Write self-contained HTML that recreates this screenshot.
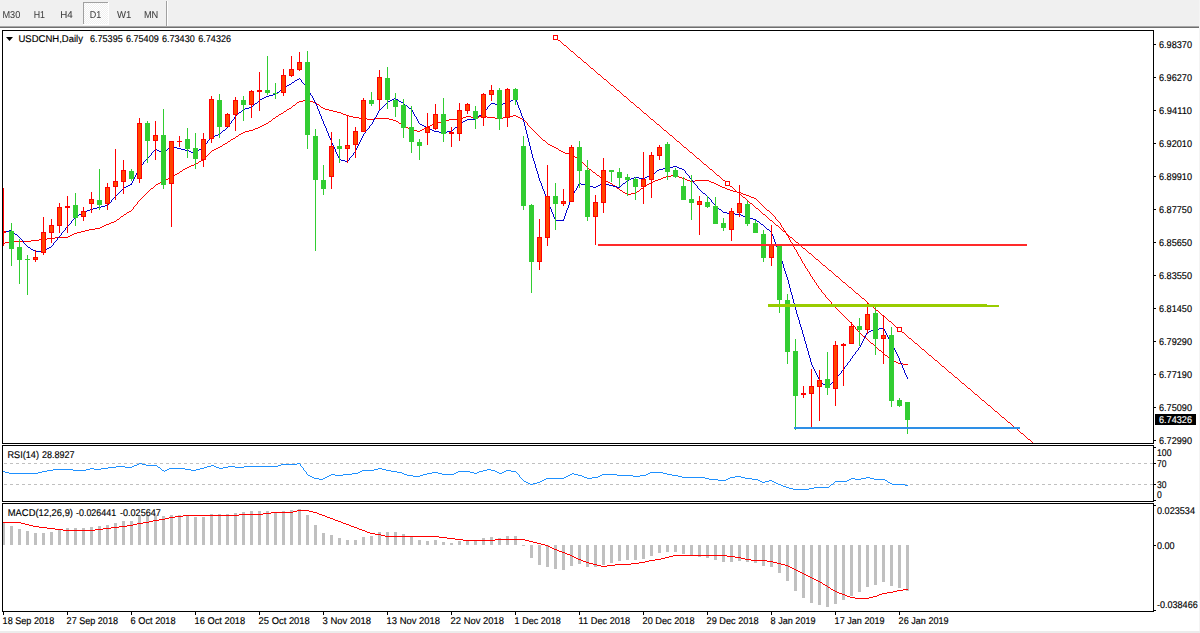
<!DOCTYPE html>
<html><head><meta charset="utf-8"><title>USDCNH Daily</title>
<style>
html,body{margin:0;padding:0;background:#fff;}
body{width:1200px;height:633px;overflow:hidden;font-family:"Liberation Sans",Arial,sans-serif;}
svg{display:block;}
svg text{font-family:"Liberation Sans",Arial,sans-serif;text-rendering:geometricPrecision;}
</style></head><body>
<svg width="1200" height="633" viewBox="0 0 1200 633">
<defs>
<clipPath id="cm"><rect x="3" y="31" width="1150" height="412"/></clipPath>
<clipPath id="cr"><rect x="3" y="446" width="1150" height="55"/></clipPath>
<clipPath id="cd"><rect x="3" y="504" width="1150" height="107"/></clipPath>
<filter id="nofx" x="0" y="0" width="100%" height="100%" filterUnits="userSpaceOnUse"><feOffset dx="0" dy="0"/></filter>
<pattern id="hatch" width="2" height="2" patternUnits="userSpaceOnUse"><rect width="2" height="2" fill="#f0f0f0"/><rect width="1" height="1" fill="#fff"/><rect x="1" y="1" width="1" height="1" fill="#fff"/></pattern>
</defs>
<rect width="1200" height="633" fill="#fff"/>
<!-- toolbar -->
<g shape-rendering="crispEdges">
<rect x="0" y="0" width="1199" height="26" fill="#f0f0f0"/>
<rect x="0" y="26" width="1199" height="1" fill="#a8a8a8"/>
<rect x="0" y="27" width="1199" height="1" fill="#6e6e6e"/>
<rect x="1199" y="0" width="1" height="633" fill="#f4f4f4"/>
<rect x="0" y="631" width="1200" height="2" fill="#ececec"/>
<rect x="83" y="2" width="25" height="22" fill="url(#hatch)"/>
<rect x="83" y="2" width="25" height="1" fill="#a0a0a0"/>
<rect x="83" y="2" width="1" height="22" fill="#a0a0a0"/>
<rect x="108" y="2" width="1" height="23" fill="#fff"/>
<rect x="83" y="24" width="26" height="1" fill="#fff"/>
<rect x="166" y="1" width="1" height="25" fill="#a0a0a0"/>
<rect x="167" y="1" width="1" height="25" fill="#fff"/>
</g>
<!-- panel frames -->
<g shape-rendering="crispEdges" fill="none" stroke="#000" stroke-width="1">
<rect x="2.5" y="30.5" width="1151" height="413"/>
<rect x="2.5" y="445.5" width="1151" height="56"/>
<rect x="2.5" y="503.5" width="1151" height="108"/>
</g>
<g shape-rendering="crispEdges">
<rect x="1154" y="44" width="2" height="1" fill="#000"/><rect x="1154" y="77" width="2" height="1" fill="#000"/><rect x="1154" y="110" width="2" height="1" fill="#000"/><rect x="1154" y="143" width="2" height="1" fill="#000"/><rect x="1154" y="176" width="2" height="1" fill="#000"/><rect x="1154" y="209" width="2" height="1" fill="#000"/><rect x="1154" y="242" width="2" height="1" fill="#000"/><rect x="1154" y="275" width="2" height="1" fill="#000"/><rect x="1154" y="308" width="2" height="1" fill="#000"/><rect x="1154" y="341" width="2" height="1" fill="#000"/><rect x="1154" y="374" width="2" height="1" fill="#000"/><rect x="1154" y="407" width="2" height="1" fill="#000"/><rect x="1154" y="440" width="2" height="1" fill="#000"/><rect x="3" y="612" width="1" height="3" fill="#000"/><rect x="67" y="612" width="1" height="3" fill="#000"/><rect x="131" y="612" width="1" height="3" fill="#000"/><rect x="195" y="612" width="1" height="3" fill="#000"/><rect x="259" y="612" width="1" height="3" fill="#000"/><rect x="323" y="612" width="1" height="3" fill="#000"/><rect x="387" y="612" width="1" height="3" fill="#000"/><rect x="451" y="612" width="1" height="3" fill="#000"/><rect x="515" y="612" width="1" height="3" fill="#000"/><rect x="579" y="612" width="1" height="3" fill="#000"/><rect x="643" y="612" width="1" height="3" fill="#000"/><rect x="707" y="612" width="1" height="3" fill="#000"/><rect x="771" y="612" width="1" height="3" fill="#000"/><rect x="835" y="612" width="1" height="3" fill="#000"/><rect x="899" y="612" width="1" height="3" fill="#000"/><rect x="1154" y="447" width="2" height="1" fill="#000"/><rect x="1154" y="463" width="2" height="1" fill="#000"/><rect x="1154" y="484" width="2" height="1" fill="#000"/><rect x="1154" y="500" width="2" height="1" fill="#000"/><rect x="1154" y="505" width="2" height="1" fill="#000"/><rect x="1154" y="545" width="2" height="1" fill="#000"/><rect x="1154" y="610" width="2" height="1" fill="#000"/>
</g>
<!-- main chart -->
<g clip-path="url(#cm)">
<g shape-rendering="crispEdges">
<path stroke="#ff0000" stroke-width="1" fill="none" d="M303 100.5h6M299 101.5h4M309 101.5h4M297 102.5h2M313 102.5h3M296 103.5h1M316 103.5h1M295 104.5h1M317 104.5h2M293 105.5h2M319 105.5h1M292 106.5h1M320 106.5h1M291 107.5h1M321 107.5h2M289 108.5h2M323 108.5h2M287 109.5h2M325 109.5h4M286 110.5h1M329 110.5h4M284 111.5h2M333 111.5h4M283 112.5h1M337 112.5h4M281 113.5h2M341 113.5h2M279 114.5h2M343 114.5h3M278 115.5h1M346 115.5h3M513 115.5h3M276 116.5h2M349 116.5h4M466 116.5h5M479 116.5h8M509 116.5h4M516 116.5h2M275 117.5h1M353 117.5h6M463 117.5h3M471 117.5h8M487 117.5h8M503 117.5h6M518 117.5h2M273 118.5h2M359 118.5h8M375 118.5h14M461 118.5h2M495 118.5h8M520 118.5h2M272 119.5h1M367 119.5h8M389 119.5h4M449 119.5h12M522 119.5h2M271 120.5h1M393 120.5h3M445 120.5h4M524 120.5h1M269 121.5h2M396 121.5h2M441 121.5h4M525 121.5h1M268 122.5h1M398 122.5h1M437 122.5h4M526 122.5h1M266 123.5h2M399 123.5h2M434 123.5h3M527 123.5h1M264 124.5h2M401 124.5h2M432 124.5h2M527 124.5h1M262 125.5h2M403 125.5h1M430 125.5h2M528 125.5h1M260 126.5h2M404 126.5h2M428 126.5h2M529 126.5h1M258 127.5h2M406 127.5h2M426 127.5h2M530 127.5h1M255 128.5h3M408 128.5h2M424 128.5h2M531 128.5h1M253 129.5h2M410 129.5h3M422 129.5h2M532 129.5h1M249 130.5h4M413 130.5h4M420 130.5h2M533 130.5h1M245 131.5h4M417 131.5h3M534 131.5h1M243 132.5h2M535 132.5h1M241 133.5h2M536 133.5h1M239 134.5h2M537 134.5h1M238 135.5h1M538 135.5h1M236 136.5h2M539 136.5h1M235 137.5h1M540 137.5h1M233 138.5h2M541 138.5h1M231 139.5h2M542 139.5h1M230 140.5h1M543 140.5h2M228 141.5h2M545 141.5h1M227 142.5h1M546 142.5h1M225 143.5h2M547 143.5h1M223 144.5h2M548 144.5h2M222 145.5h1M550 145.5h2M220 146.5h2M552 146.5h2M218 147.5h2M554 147.5h2M216 148.5h2M556 148.5h2M214 149.5h2M558 149.5h1M212 150.5h2M559 150.5h2M211 151.5h1M561 151.5h2M210 152.5h1M563 152.5h2M209 153.5h1M565 153.5h4M208 154.5h1M569 154.5h3M207 155.5h1M572 155.5h2M206 156.5h1M574 156.5h1M205 157.5h1M575 157.5h2M204 158.5h1M577 158.5h2M203 159.5h1M579 159.5h1M201 160.5h2M580 160.5h1M199 161.5h2M581 161.5h1M198 162.5h1M582 162.5h1M196 163.5h2M583 163.5h1M194 164.5h2M584 164.5h1M191 165.5h3M585 165.5h1M189 166.5h2M586 166.5h1M187 167.5h2M587 167.5h1M185 168.5h2M588 168.5h1M183 169.5h2M589 169.5h2M182 170.5h1M591 170.5h1M180 171.5h2M592 171.5h1M179 172.5h1M593 172.5h2M177 173.5h2M595 173.5h1M175 174.5h2M596 174.5h1M174 175.5h1M597 175.5h2M671 175.5h6M172 176.5h2M599 176.5h1M666 176.5h5M677 176.5h2M170 177.5h2M600 177.5h1M663 177.5h3M679 177.5h3M168 178.5h2M601 178.5h2M661 178.5h2M682 178.5h3M166 179.5h2M603 179.5h1M658 179.5h3M685 179.5h2M164 180.5h2M604 180.5h2M655 180.5h3M687 180.5h3M695 180.5h14M162 181.5h2M606 181.5h2M653 181.5h2M690 181.5h5M709 181.5h2M160 182.5h2M608 182.5h2M651 182.5h2M711 182.5h3M158 183.5h2M610 183.5h2M649 183.5h2M714 183.5h2M156 184.5h2M612 184.5h1M647 184.5h2M716 184.5h2M155 185.5h1M613 185.5h2M646 185.5h1M718 185.5h2M154 186.5h1M615 186.5h1M644 186.5h2M720 186.5h2M153 187.5h1M616 187.5h1M643 187.5h1M722 187.5h3M151 188.5h2M617 188.5h2M641 188.5h2M725 188.5h2M150 189.5h1M619 189.5h1M640 189.5h1M727 189.5h3M149 190.5h1M620 190.5h2M639 190.5h1M730 190.5h3M148 191.5h1M622 191.5h1M637 191.5h2M733 191.5h4M147 192.5h1M623 192.5h2M636 192.5h1M737 192.5h4M146 193.5h1M625 193.5h2M631 193.5h5M741 193.5h2M145 194.5h1M627 194.5h4M743 194.5h3M144 195.5h1M746 195.5h3M143 196.5h1M749 196.5h2M142 197.5h1M751 197.5h3M141 198.5h1M754 198.5h2M140 199.5h1M756 199.5h1M139 200.5h1M757 200.5h1M138 201.5h1M758 201.5h1M137 202.5h1M759 202.5h1M137 203.5h1M760 203.5h1M136 204.5h1M761 204.5h1M135 205.5h1M762 205.5h1M134 206.5h1M763 206.5h1M133 207.5h1M764 207.5h1M133 208.5h1M765 208.5h1M132 209.5h1M766 209.5h1M131 210.5h1M767 210.5h2M129 211.5h2M769 211.5h1M127 212.5h2M770 212.5h1M126 213.5h1M771 213.5h1M124 214.5h2M772 214.5h1M123 215.5h1M773 215.5h1M121 216.5h2M774 216.5h1M120 217.5h1M775 217.5h1M119 218.5h1M775 218.5h1M117 219.5h2M776 219.5h1M116 220.5h1M777 220.5h1M114 221.5h2M778 221.5h1M111 222.5h3M779 222.5h1M109 223.5h2M780 223.5h1M106 224.5h3M780 224.5h1M104 225.5h2M781 225.5h1M102 226.5h2M781 226.5h1M100 227.5h2M782 227.5h1M95 228.5h5M783 228.5h1M89 229.5h6M783 229.5h1M85 230.5h4M784 230.5h1M81 231.5h4M785 231.5h1M77 232.5h4M785 232.5h1M74 233.5h3M786 233.5h1M72 234.5h2M786 234.5h1M70 235.5h2M787 235.5h1M68 236.5h2M788 236.5h1M55 237.5h13M788 237.5h1M47 238.5h8M789 238.5h1M39 239.5h8M789 239.5h1M31 240.5h8M790 240.5h1M9 241.5h22M790 241.5h1M5 242.5h4M791 242.5h1M3 243.5h2M792 243.5h1M792 244.5h1M793 245.5h1M793 246.5h1M794 247.5h1M794 248.5h1M795 249.5h1M796 250.5h1M796 251.5h1M797 252.5h1M797 253.5h1M798 254.5h1M798 255.5h1M799 256.5h1M800 257.5h1M800 258.5h1M801 259.5h1M801 260.5h1M802 261.5h1M802 262.5h1M803 263.5h1M804 264.5h1M804 265.5h1M805 266.5h1M805 267.5h1M806 268.5h1M807 269.5h1M807 270.5h1M808 271.5h1M809 272.5h1M809 273.5h1M810 274.5h1M810 275.5h1M811 276.5h1M812 277.5h1M812 278.5h1M813 279.5h1M814 280.5h1M814 281.5h1M815 282.5h1M816 283.5h1M816 284.5h1M817 285.5h1M818 286.5h1M818 287.5h1M819 288.5h1M820 289.5h1M821 290.5h1M821 291.5h1M822 292.5h1M823 293.5h1M824 294.5h1M825 295.5h1M825 296.5h1M826 297.5h1M827 298.5h1M828 299.5h1M829 300.5h1M830 301.5h1M831 302.5h1M831 303.5h1M832 304.5h1M833 305.5h1M834 306.5h1M835 307.5h1M836 308.5h1M837 309.5h1M838 310.5h1M839 311.5h1M840 312.5h1M841 313.5h1M842 314.5h1M843 315.5h1M844 316.5h1M845 317.5h1M846 318.5h1M847 319.5h1M848 320.5h1M849 321.5h1M850 322.5h1M851 323.5h1M852 324.5h1M853 325.5h1M854 326.5h1M855 327.5h1M855 328.5h1M856 329.5h1M857 330.5h1M858 331.5h1M859 332.5h1M860 333.5h1M861 334.5h1M862 335.5h1M863 336.5h2M865 337.5h1M866 338.5h1M867 339.5h1M868 340.5h1M869 341.5h1M870 342.5h1M871 343.5h2M873 344.5h1M874 345.5h1M875 346.5h1M876 347.5h1M877 348.5h1M878 349.5h1M879 350.5h2M881 351.5h1M882 352.5h1M883 353.5h1M884 354.5h1M885 355.5h2M887 356.5h1M888 357.5h1M889 358.5h2M891 359.5h1M892 360.5h2M894 361.5h2M896 362.5h2M898 363.5h5M903 364.5h5"/>
<path stroke="#0000cd" stroke-width="1" fill="none" d="M299 78.5h1M297 79.5h2M300 79.5h1M295 80.5h2M301 80.5h1M294 81.5h1M301 81.5h1M292 82.5h2M302 82.5h1M291 83.5h1M303 83.5h1M289 84.5h2M304 84.5h1M287 85.5h2M305 85.5h1M286 86.5h1M305 86.5h1M284 87.5h2M306 87.5h1M283 88.5h1M307 88.5h1M281 89.5h2M308 89.5h1M280 90.5h1M308 90.5h1M279 91.5h1M309 91.5h1M277 92.5h2M309 92.5h1M276 93.5h1M310 93.5h1M273 94.5h3M310 94.5h1M269 95.5h4M311 95.5h1M266 96.5h3M312 96.5h1M264 97.5h2M312 97.5h1M262 98.5h2M313 98.5h1M394 98.5h2M515 98.5h1M260 99.5h2M313 99.5h1M392 99.5h2M396 99.5h2M513 99.5h3M259 100.5h1M314 100.5h1M390 100.5h2M398 100.5h1M511 100.5h2M516 100.5h1M258 101.5h1M314 101.5h1M388 101.5h2M399 101.5h2M510 101.5h1M516 101.5h1M257 102.5h1M315 102.5h1M387 102.5h1M401 102.5h2M508 102.5h2M517 102.5h1M255 103.5h2M315 103.5h1M386 103.5h1M403 103.5h1M491 103.5h4M503 103.5h5M517 103.5h1M254 104.5h1M316 104.5h1M385 104.5h1M404 104.5h1M490 104.5h1M495 104.5h8M517 104.5h1M253 105.5h1M316 105.5h1M384 105.5h1M405 105.5h2M489 105.5h1M518 105.5h1M252 106.5h1M317 106.5h1M383 106.5h1M407 106.5h1M488 106.5h1M518 106.5h1M249 107.5h3M317 107.5h1M382 107.5h1M408 107.5h1M487 107.5h1M518 107.5h1M245 108.5h4M317 108.5h1M381 108.5h1M409 108.5h2M487 108.5h1M519 108.5h1M243 109.5h2M318 109.5h1M380 109.5h1M411 109.5h1M486 109.5h1M519 109.5h1M242 110.5h1M318 110.5h1M379 110.5h1M412 110.5h1M485 110.5h1M520 110.5h1M241 111.5h1M319 111.5h1M378 111.5h1M412 111.5h1M484 111.5h1M520 111.5h1M239 112.5h2M319 112.5h1M378 112.5h1M413 112.5h1M483 112.5h1M520 112.5h1M238 113.5h1M319 113.5h1M377 113.5h1M413 113.5h1M482 113.5h1M521 113.5h1M237 114.5h1M320 114.5h1M377 114.5h1M414 114.5h1M481 114.5h1M521 114.5h1M236 115.5h1M320 115.5h1M376 115.5h1M414 115.5h1M479 115.5h2M521 115.5h1M235 116.5h1M321 116.5h1M376 116.5h1M415 116.5h1M478 116.5h1M522 116.5h1M234 117.5h1M321 117.5h1M375 117.5h1M416 117.5h1M477 117.5h1M522 117.5h1M234 118.5h1M321 118.5h1M374 118.5h1M416 118.5h1M476 118.5h1M523 118.5h1M233 119.5h1M322 119.5h1M374 119.5h1M417 119.5h1M467 119.5h9M523 119.5h1M232 120.5h1M322 120.5h1M373 120.5h1M417 120.5h1M465 120.5h2M523 120.5h1M231 121.5h1M323 121.5h1M373 121.5h1M418 121.5h1M463 121.5h2M523 121.5h1M231 122.5h1M323 122.5h1M372 122.5h1M418 122.5h1M462 122.5h1M524 122.5h1M230 123.5h1M323 123.5h1M372 123.5h1M419 123.5h1M460 123.5h2M524 123.5h1M229 124.5h1M324 124.5h1M371 124.5h1M420 124.5h2M459 124.5h1M524 124.5h1M228 125.5h1M324 125.5h1M370 125.5h1M422 125.5h2M458 125.5h1M524 125.5h1M228 126.5h1M325 126.5h1M369 126.5h1M424 126.5h2M457 126.5h1M525 126.5h1M227 127.5h1M325 127.5h1M369 127.5h1M426 127.5h2M455 127.5h2M525 127.5h1M226 128.5h1M326 128.5h1M368 128.5h1M428 128.5h2M454 128.5h1M525 128.5h1M225 129.5h1M326 129.5h1M367 129.5h1M430 129.5h2M453 129.5h1M525 129.5h1M223 130.5h2M326 130.5h1M366 130.5h1M432 130.5h2M452 130.5h1M526 130.5h1M222 131.5h1M327 131.5h1M365 131.5h1M434 131.5h5M447 131.5h5M526 131.5h1M221 132.5h1M327 132.5h1M365 132.5h1M439 132.5h8M526 132.5h1M220 133.5h1M328 133.5h1M364 133.5h1M526 133.5h1M218 134.5h2M328 134.5h1M363 134.5h1M527 134.5h1M215 135.5h3M328 135.5h1M363 135.5h1M527 135.5h1M213 136.5h2M329 136.5h1M362 136.5h1M527 136.5h1M211 137.5h2M329 137.5h1M362 137.5h1M527 137.5h1M210 138.5h1M330 138.5h1M361 138.5h1M528 138.5h1M209 139.5h1M330 139.5h1M361 139.5h1M528 139.5h1M208 140.5h1M331 140.5h1M360 140.5h1M528 140.5h1M207 141.5h1M331 141.5h1M360 141.5h1M528 141.5h1M207 142.5h1M331 142.5h1M359 142.5h1M529 142.5h1M206 143.5h1M332 143.5h1M359 143.5h1M529 143.5h1M205 144.5h1M332 144.5h1M358 144.5h1M529 144.5h1M204 145.5h1M333 145.5h1M358 145.5h1M529 145.5h1M171 146.5h2M203 146.5h1M333 146.5h1M357 146.5h1M530 146.5h1M169 147.5h2M173 147.5h4M202 147.5h1M334 147.5h1M357 147.5h1M530 147.5h1M168 148.5h1M177 148.5h4M201 148.5h1M334 148.5h1M356 148.5h1M530 148.5h1M155 149.5h2M167 149.5h1M181 149.5h4M199 149.5h2M335 149.5h1M356 149.5h1M530 149.5h1M154 150.5h1M157 150.5h2M165 150.5h2M185 150.5h4M198 150.5h1M335 150.5h1M355 150.5h1M531 150.5h1M153 151.5h1M159 151.5h3M164 151.5h1M189 151.5h2M197 151.5h1M335 151.5h1M355 151.5h1M531 151.5h1M152 152.5h1M162 152.5h2M191 152.5h3M196 152.5h1M336 152.5h1M354 152.5h1M531 152.5h1M151 153.5h1M194 153.5h2M336 153.5h1M353 153.5h1M531 153.5h1M151 154.5h1M337 154.5h1M353 154.5h1M532 154.5h1M150 155.5h1M337 155.5h1M352 155.5h1M532 155.5h1M149 156.5h1M338 156.5h1M351 156.5h1M532 156.5h1M148 157.5h1M338 157.5h1M350 157.5h1M532 157.5h1M147 158.5h1M339 158.5h1M349 158.5h1M533 158.5h1M146 159.5h1M339 159.5h2M349 159.5h1M533 159.5h1M145 160.5h1M341 160.5h4M348 160.5h1M533 160.5h1M144 161.5h1M345 161.5h3M534 161.5h1M143 162.5h1M534 162.5h1M143 163.5h1M534 163.5h1M142 164.5h1M535 164.5h1M141 165.5h1M535 165.5h1M140 166.5h1M535 166.5h1M673 166.5h4M139 167.5h1M535 167.5h1M669 167.5h4M677 167.5h2M139 168.5h1M536 168.5h1M663 168.5h6M679 168.5h3M138 169.5h1M536 169.5h1M659 169.5h4M682 169.5h2M138 170.5h1M536 170.5h1M657 170.5h2M684 170.5h1M137 171.5h1M537 171.5h1M656 171.5h1M685 171.5h1M137 172.5h1M537 172.5h1M655 172.5h1M685 172.5h1M136 173.5h1M537 173.5h1M653 173.5h2M686 173.5h1M136 174.5h1M538 174.5h1M652 174.5h1M687 174.5h1M135 175.5h1M538 175.5h1M650 175.5h2M688 175.5h1M135 176.5h1M538 176.5h1M647 176.5h3M689 176.5h1M134 177.5h1M538 177.5h1M634 177.5h5M645 177.5h2M689 177.5h1M134 178.5h1M539 178.5h1M631 178.5h3M639 178.5h6M690 178.5h1M133 179.5h1M539 179.5h1M629 179.5h2M691 179.5h1M133 180.5h1M539 180.5h1M627 180.5h2M692 180.5h1M132 181.5h1M540 181.5h1M626 181.5h1M693 181.5h1M132 182.5h1M540 182.5h1M625 182.5h1M693 182.5h1M131 183.5h1M541 183.5h1M579 183.5h2M602 183.5h3M623 183.5h2M694 183.5h1M130 184.5h2M541 184.5h1M578 184.5h1M581 184.5h4M600 184.5h2M605 184.5h4M622 184.5h1M695 184.5h1M128 185.5h2M541 185.5h1M578 185.5h1M585 185.5h4M598 185.5h2M609 185.5h4M621 185.5h1M696 185.5h1M126 186.5h2M542 186.5h1M577 186.5h1M589 186.5h4M596 186.5h2M613 186.5h4M620 186.5h1M697 186.5h1M124 187.5h2M542 187.5h1M577 187.5h1M593 187.5h3M617 187.5h3M697 187.5h1M123 188.5h1M542 188.5h1M576 188.5h1M698 188.5h1M122 189.5h1M543 189.5h1M576 189.5h1M699 189.5h1M121 190.5h1M543 190.5h1M575 190.5h1M700 190.5h1M120 191.5h1M544 191.5h1M574 191.5h1M701 191.5h1M119 192.5h1M544 192.5h1M574 192.5h1M702 192.5h1M118 193.5h1M544 193.5h1M573 193.5h1M703 193.5h2M117 194.5h1M545 194.5h1M573 194.5h1M705 194.5h1M116 195.5h1M545 195.5h1M572 195.5h1M706 195.5h1M115 196.5h1M545 196.5h1M572 196.5h1M707 196.5h1M114 197.5h1M546 197.5h1M571 197.5h1M708 197.5h1M113 198.5h1M546 198.5h1M571 198.5h1M709 198.5h1M112 199.5h1M547 199.5h1M570 199.5h1M710 199.5h1M111 200.5h1M547 200.5h1M570 200.5h1M711 200.5h1M111 201.5h1M547 201.5h1M570 201.5h1M711 201.5h1M110 202.5h1M548 202.5h1M569 202.5h1M712 202.5h1M109 203.5h1M548 203.5h1M569 203.5h1M713 203.5h1M108 204.5h1M549 204.5h1M569 204.5h1M714 204.5h1M105 205.5h3M549 205.5h1M568 205.5h1M715 205.5h1M101 206.5h4M549 206.5h1M568 206.5h1M716 206.5h1M97 207.5h4M550 207.5h1M568 207.5h1M717 207.5h1M93 208.5h4M550 208.5h1M567 208.5h1M718 208.5h1M90 209.5h3M551 209.5h1M567 209.5h1M719 209.5h2M87 210.5h3M551 210.5h1M566 210.5h1M721 210.5h1M85 211.5h2M551 211.5h1M566 211.5h1M722 211.5h1M83 212.5h2M552 212.5h1M566 212.5h1M723 212.5h4M81 213.5h2M552 213.5h1M565 213.5h1M727 213.5h8M79 214.5h2M553 214.5h1M565 214.5h1M735 214.5h6M78 215.5h1M553 215.5h1M565 215.5h1M741 215.5h2M76 216.5h2M553 216.5h1M564 216.5h1M743 216.5h3M75 217.5h1M554 217.5h1M564 217.5h1M746 217.5h3M74 218.5h1M554 218.5h1M564 218.5h1M749 218.5h4M73 219.5h1M555 219.5h1M563 219.5h1M753 219.5h3M72 220.5h1M555 220.5h9M756 220.5h1M71 221.5h1M757 221.5h2M71 222.5h1M759 222.5h1M70 223.5h1M760 223.5h1M69 224.5h1M761 224.5h2M68 225.5h1M763 225.5h1M67 226.5h1M764 226.5h1M66 227.5h1M765 227.5h1M65 228.5h1M766 228.5h1M65 229.5h1M767 229.5h2M9 230.5h3M64 230.5h1M769 230.5h1M5 231.5h4M12 231.5h1M63 231.5h1M770 231.5h1M3 232.5h2M13 232.5h1M62 232.5h1M771 232.5h1M14 233.5h1M61 233.5h1M771 233.5h1M15 234.5h2M61 234.5h1M772 234.5h1M17 235.5h1M60 235.5h1M772 235.5h1M18 236.5h1M59 236.5h1M773 236.5h1M19 237.5h1M58 237.5h1M773 237.5h1M20 238.5h1M57 238.5h1M773 238.5h1M21 239.5h1M57 239.5h1M774 239.5h1M22 240.5h1M56 240.5h1M774 240.5h1M23 241.5h1M55 241.5h1M774 241.5h1M23 242.5h1M54 242.5h1M775 242.5h1M24 243.5h1M53 243.5h1M775 243.5h1M25 244.5h1M53 244.5h1M776 244.5h1M26 245.5h1M52 245.5h1M776 245.5h1M27 246.5h1M51 246.5h1M776 246.5h1M28 247.5h2M49 247.5h2M777 247.5h1M30 248.5h1M47 248.5h2M777 248.5h1M31 249.5h2M46 249.5h1M777 249.5h1M33 250.5h2M44 250.5h2M778 250.5h1M35 251.5h9M778 251.5h1M779 252.5h1M779 253.5h1M779 254.5h1M780 255.5h1M780 256.5h1M780 257.5h1M781 258.5h1M781 259.5h1M781 260.5h1M782 261.5h1M782 262.5h1M782 263.5h1M783 264.5h1M783 265.5h1M783 266.5h1M783 267.5h1M784 268.5h1M784 269.5h1M784 270.5h1M785 271.5h1M785 272.5h1M785 273.5h1M786 274.5h1M786 275.5h1M786 276.5h1M787 277.5h1M787 278.5h1M787 279.5h1M788 280.5h1M788 281.5h1M788 282.5h1M788 283.5h1M789 284.5h1M789 285.5h1M789 286.5h1M789 287.5h1M790 288.5h1M790 289.5h1M790 290.5h1M790 291.5h1M791 292.5h1M791 293.5h1M791 294.5h1M792 295.5h1M792 296.5h1M792 297.5h1M792 298.5h1M793 299.5h1M793 300.5h1M793 301.5h1M793 302.5h1M794 303.5h1M794 304.5h1M794 305.5h1M794 306.5h1M795 307.5h1M795 308.5h1M795 309.5h1M796 310.5h1M796 311.5h1M796 312.5h1M796 313.5h1M797 314.5h1M797 315.5h1M797 316.5h1M798 317.5h1M798 318.5h1M798 319.5h1M799 320.5h1M799 321.5h1M799 322.5h1M799 323.5h1M800 324.5h1M800 325.5h1M800 326.5h1M801 327.5h1M801 328.5h1M879 328.5h5M801 329.5h1M874 329.5h5M884 329.5h1M802 330.5h1M871 330.5h3M884 330.5h1M802 331.5h1M869 331.5h2M885 331.5h1M802 332.5h1M867 332.5h2M885 332.5h1M802 333.5h1M866 333.5h1M886 333.5h1M803 334.5h1M866 334.5h1M886 334.5h1M803 335.5h1M865 335.5h1M887 335.5h1M803 336.5h1M865 336.5h1M887 336.5h1M804 337.5h1M864 337.5h1M888 337.5h1M804 338.5h1M864 338.5h1M888 338.5h1M804 339.5h1M863 339.5h1M889 339.5h1M804 340.5h1M863 340.5h1M889 340.5h1M805 341.5h1M862 341.5h1M890 341.5h1M805 342.5h1M862 342.5h1M890 342.5h1M805 343.5h1M861 343.5h1M891 343.5h1M806 344.5h1M861 344.5h1M892 344.5h1M806 345.5h1M860 345.5h1M892 345.5h1M806 346.5h1M860 346.5h1M893 346.5h1M806 347.5h1M859 347.5h1M893 347.5h1M807 348.5h1M858 348.5h1M894 348.5h1M807 349.5h1M858 349.5h1M894 349.5h1M807 350.5h1M857 350.5h1M895 350.5h1M808 351.5h1M856 351.5h1M895 351.5h1M808 352.5h1M855 352.5h1M896 352.5h1M808 353.5h1M855 353.5h1M896 353.5h1M808 354.5h1M854 354.5h1M897 354.5h1M809 355.5h1M853 355.5h1M897 355.5h1M809 356.5h1M852 356.5h1M898 356.5h1M809 357.5h1M852 357.5h1M898 357.5h1M810 358.5h1M851 358.5h1M899 358.5h1M810 359.5h1M850 359.5h1M899 359.5h1M810 360.5h1M850 360.5h1M899 360.5h1M810 361.5h1M849 361.5h1M900 361.5h1M811 362.5h1M848 362.5h1M900 362.5h1M811 363.5h1M847 363.5h1M901 363.5h1M811 364.5h1M847 364.5h1M901 364.5h1M812 365.5h1M846 365.5h1M902 365.5h1M812 366.5h1M845 366.5h1M902 366.5h1M813 367.5h1M844 367.5h1M902 367.5h1M813 368.5h1M844 368.5h1M903 368.5h1M814 369.5h1M843 369.5h1M903 369.5h1M814 370.5h1M842 370.5h1M904 370.5h1M815 371.5h1M841 371.5h1M904 371.5h1M815 372.5h1M841 372.5h1M904 372.5h1M816 373.5h1M840 373.5h1M905 373.5h1M816 374.5h1M839 374.5h1M905 374.5h1M817 375.5h1M838 375.5h1M906 375.5h1M817 376.5h1M837 376.5h1M906 376.5h1M818 377.5h1M837 377.5h1M907 377.5h1M818 378.5h1M836 378.5h1M907 378.5h1M819 379.5h1M835 379.5h1M819 380.5h1M834 380.5h1M820 381.5h1M833 381.5h1M821 382.5h1M832 382.5h1M822 383.5h1M831 383.5h1M823 384.5h2M830 384.5h1M825 385.5h1M829 385.5h1M826 386.5h1M828 386.5h1M827 387.5h1"/>
</g>
<g shape-rendering="crispEdges">
<rect x="3" y="188" width="1" height="58" fill="#ff0000"/>
<rect x="1" y="231" width="5" height="2" fill="#ff0000"/>
<rect x="11" y="223" width="1" height="43" fill="#32cd32"/>
<rect x="9" y="231" width="5" height="18" fill="#32cd32"/>
<rect x="19" y="239" width="1" height="45" fill="#32cd32"/>
<rect x="17" y="247" width="5" height="13" fill="#32cd32"/>
<rect x="27" y="255" width="1" height="40" fill="#32cd32"/>
<rect x="25" y="259" width="5" height="1" fill="#32cd32"/>
<rect x="35" y="250" width="1" height="12" fill="#ff0000"/>
<rect x="33" y="257" width="5" height="3" fill="#ff0000"/>
<rect x="34" y="258" width="3" height="1" fill="#ff4500"/>
<rect x="43" y="217" width="1" height="38" fill="#ff0000"/>
<rect x="41" y="232" width="5" height="21" fill="#ff0000"/>
<rect x="42" y="233" width="3" height="19" fill="#ff4500"/>
<rect x="51" y="219" width="1" height="24" fill="#ff0000"/>
<rect x="49" y="225" width="5" height="8" fill="#ff0000"/>
<rect x="50" y="226" width="3" height="6" fill="#ff4500"/>
<rect x="59" y="203" width="1" height="30" fill="#ff0000"/>
<rect x="57" y="207" width="5" height="19" fill="#ff0000"/>
<rect x="58" y="208" width="3" height="17" fill="#ff4500"/>
<rect x="67" y="196" width="1" height="37" fill="#ff0000"/>
<rect x="65" y="206" width="5" height="2" fill="#ff0000"/>
<rect x="75" y="193" width="1" height="33" fill="#32cd32"/>
<rect x="73" y="205" width="5" height="13" fill="#32cd32"/>
<rect x="83" y="207" width="1" height="14" fill="#ff0000"/>
<rect x="81" y="211" width="5" height="6" fill="#ff0000"/>
<rect x="82" y="212" width="3" height="4" fill="#ff4500"/>
<rect x="91" y="192" width="1" height="21" fill="#ff0000"/>
<rect x="89" y="199" width="5" height="5" fill="#ff0000"/>
<rect x="90" y="200" width="3" height="3" fill="#ff4500"/>
<rect x="99" y="169" width="1" height="41" fill="#32cd32"/>
<rect x="97" y="200" width="5" height="5" fill="#32cd32"/>
<rect x="107" y="183" width="1" height="27" fill="#ff0000"/>
<rect x="105" y="187" width="5" height="17" fill="#ff0000"/>
<rect x="106" y="188" width="3" height="15" fill="#ff4500"/>
<rect x="115" y="149" width="1" height="51" fill="#ff0000"/>
<rect x="113" y="181" width="5" height="6" fill="#ff0000"/>
<rect x="114" y="182" width="3" height="4" fill="#ff4500"/>
<rect x="123" y="160" width="1" height="34" fill="#ff0000"/>
<rect x="121" y="170" width="5" height="12" fill="#ff0000"/>
<rect x="122" y="171" width="3" height="10" fill="#ff4500"/>
<rect x="131" y="169" width="1" height="12" fill="#32cd32"/>
<rect x="129" y="171" width="5" height="8" fill="#32cd32"/>
<rect x="139" y="118" width="1" height="65" fill="#ff0000"/>
<rect x="137" y="123" width="5" height="56" fill="#ff0000"/>
<rect x="138" y="124" width="3" height="54" fill="#ff4500"/>
<rect x="147" y="121" width="1" height="42" fill="#32cd32"/>
<rect x="145" y="123" width="5" height="18" fill="#32cd32"/>
<rect x="155" y="121" width="1" height="39" fill="#ff0000"/>
<rect x="153" y="135" width="5" height="6" fill="#ff0000"/>
<rect x="154" y="136" width="3" height="4" fill="#ff4500"/>
<rect x="163" y="109" width="1" height="80" fill="#32cd32"/>
<rect x="161" y="135" width="5" height="50" fill="#32cd32"/>
<rect x="171" y="141" width="1" height="86" fill="#ff0000"/>
<rect x="169" y="141" width="5" height="43" fill="#ff0000"/>
<rect x="170" y="142" width="3" height="41" fill="#ff4500"/>
<rect x="179" y="136" width="1" height="11" fill="#ff0000"/>
<rect x="177" y="141" width="5" height="1" fill="#ff0000"/>
<rect x="187" y="128" width="1" height="30" fill="#32cd32"/>
<rect x="185" y="139" width="5" height="10" fill="#32cd32"/>
<rect x="195" y="133" width="1" height="36" fill="#32cd32"/>
<rect x="193" y="148" width="5" height="11" fill="#32cd32"/>
<rect x="203" y="133" width="1" height="34" fill="#ff0000"/>
<rect x="201" y="139" width="5" height="21" fill="#ff0000"/>
<rect x="202" y="140" width="3" height="19" fill="#ff4500"/>
<rect x="211" y="96" width="1" height="47" fill="#ff0000"/>
<rect x="209" y="99" width="5" height="40" fill="#ff0000"/>
<rect x="210" y="100" width="3" height="38" fill="#ff4500"/>
<rect x="219" y="94" width="1" height="44" fill="#32cd32"/>
<rect x="217" y="100" width="5" height="27" fill="#32cd32"/>
<rect x="227" y="113" width="1" height="14" fill="#ff0000"/>
<rect x="225" y="114" width="5" height="13" fill="#ff0000"/>
<rect x="226" y="115" width="3" height="11" fill="#ff4500"/>
<rect x="235" y="97" width="1" height="34" fill="#ff0000"/>
<rect x="233" y="100" width="5" height="15" fill="#ff0000"/>
<rect x="234" y="101" width="3" height="13" fill="#ff4500"/>
<rect x="243" y="96" width="1" height="25" fill="#32cd32"/>
<rect x="241" y="100" width="5" height="5" fill="#32cd32"/>
<rect x="251" y="90" width="1" height="28" fill="#ff0000"/>
<rect x="249" y="91" width="5" height="14" fill="#ff0000"/>
<rect x="250" y="92" width="3" height="12" fill="#ff4500"/>
<rect x="259" y="72" width="1" height="39" fill="#ff0000"/>
<rect x="257" y="90" width="5" height="2" fill="#ff0000"/>
<rect x="267" y="56" width="1" height="39" fill="#32cd32"/>
<rect x="265" y="90" width="5" height="3" fill="#32cd32"/>
<rect x="275" y="83" width="1" height="16" fill="#32cd32"/>
<rect x="273" y="93" width="5" height="1" fill="#32cd32"/>
<rect x="283" y="69" width="1" height="27" fill="#ff0000"/>
<rect x="281" y="75" width="5" height="18" fill="#ff0000"/>
<rect x="282" y="76" width="3" height="16" fill="#ff4500"/>
<rect x="291" y="56" width="1" height="21" fill="#ff0000"/>
<rect x="289" y="69" width="5" height="7" fill="#ff0000"/>
<rect x="290" y="70" width="3" height="5" fill="#ff4500"/>
<rect x="299" y="52" width="1" height="19" fill="#ff0000"/>
<rect x="297" y="62" width="5" height="8" fill="#ff0000"/>
<rect x="298" y="63" width="3" height="6" fill="#ff4500"/>
<rect x="307" y="51" width="1" height="98" fill="#32cd32"/>
<rect x="305" y="62" width="5" height="73" fill="#32cd32"/>
<rect x="315" y="129" width="1" height="122" fill="#32cd32"/>
<rect x="313" y="136" width="5" height="44" fill="#32cd32"/>
<rect x="323" y="165" width="1" height="30" fill="#32cd32"/>
<rect x="321" y="180" width="5" height="9" fill="#32cd32"/>
<rect x="331" y="132" width="1" height="57" fill="#ff0000"/>
<rect x="329" y="146" width="5" height="31" fill="#ff0000"/>
<rect x="330" y="147" width="3" height="29" fill="#ff4500"/>
<rect x="339" y="139" width="1" height="24" fill="#32cd32"/>
<rect x="337" y="146" width="5" height="3" fill="#32cd32"/>
<rect x="347" y="115" width="1" height="48" fill="#ff0000"/>
<rect x="345" y="145" width="5" height="4" fill="#ff0000"/>
<rect x="346" y="146" width="3" height="2" fill="#ff4500"/>
<rect x="355" y="127" width="1" height="31" fill="#ff0000"/>
<rect x="353" y="131" width="5" height="14" fill="#ff0000"/>
<rect x="354" y="132" width="3" height="12" fill="#ff4500"/>
<rect x="363" y="98" width="1" height="34" fill="#ff0000"/>
<rect x="361" y="100" width="5" height="32" fill="#ff0000"/>
<rect x="362" y="101" width="3" height="30" fill="#ff4500"/>
<rect x="371" y="92" width="1" height="14" fill="#32cd32"/>
<rect x="369" y="100" width="5" height="4" fill="#32cd32"/>
<rect x="379" y="70" width="1" height="40" fill="#ff0000"/>
<rect x="377" y="77" width="5" height="23" fill="#ff0000"/>
<rect x="378" y="78" width="3" height="21" fill="#ff4500"/>
<rect x="387" y="67" width="1" height="42" fill="#32cd32"/>
<rect x="385" y="78" width="5" height="22" fill="#32cd32"/>
<rect x="395" y="93" width="1" height="24" fill="#32cd32"/>
<rect x="393" y="100" width="5" height="7" fill="#32cd32"/>
<rect x="403" y="99" width="1" height="39" fill="#32cd32"/>
<rect x="401" y="105" width="5" height="23" fill="#32cd32"/>
<rect x="411" y="106" width="1" height="47" fill="#32cd32"/>
<rect x="409" y="127" width="5" height="15" fill="#32cd32"/>
<rect x="419" y="139" width="1" height="21" fill="#32cd32"/>
<rect x="417" y="142" width="5" height="4" fill="#32cd32"/>
<rect x="427" y="113" width="1" height="32" fill="#ff0000"/>
<rect x="425" y="127" width="5" height="6" fill="#ff0000"/>
<rect x="426" y="128" width="3" height="4" fill="#ff4500"/>
<rect x="435" y="104" width="1" height="26" fill="#ff0000"/>
<rect x="433" y="114" width="5" height="15" fill="#ff0000"/>
<rect x="434" y="115" width="3" height="13" fill="#ff4500"/>
<rect x="443" y="98" width="1" height="44" fill="#32cd32"/>
<rect x="441" y="114" width="5" height="20" fill="#32cd32"/>
<rect x="451" y="127" width="1" height="20" fill="#ff0000"/>
<rect x="449" y="132" width="5" height="2" fill="#ff0000"/>
<rect x="459" y="103" width="1" height="38" fill="#ff0000"/>
<rect x="457" y="110" width="5" height="24" fill="#ff0000"/>
<rect x="458" y="111" width="3" height="22" fill="#ff4500"/>
<rect x="467" y="103" width="1" height="11" fill="#ff0000"/>
<rect x="465" y="104" width="5" height="7" fill="#ff0000"/>
<rect x="466" y="105" width="3" height="5" fill="#ff4500"/>
<rect x="475" y="106" width="1" height="23" fill="#32cd32"/>
<rect x="473" y="111" width="5" height="8" fill="#32cd32"/>
<rect x="483" y="93" width="1" height="33" fill="#ff0000"/>
<rect x="481" y="94" width="5" height="24" fill="#ff0000"/>
<rect x="482" y="95" width="3" height="22" fill="#ff4500"/>
<rect x="491" y="85" width="1" height="16" fill="#ff0000"/>
<rect x="489" y="90" width="5" height="5" fill="#ff0000"/>
<rect x="490" y="91" width="3" height="3" fill="#ff4500"/>
<rect x="499" y="88" width="1" height="42" fill="#32cd32"/>
<rect x="497" y="90" width="5" height="29" fill="#32cd32"/>
<rect x="507" y="88" width="1" height="39" fill="#ff0000"/>
<rect x="505" y="89" width="5" height="29" fill="#ff0000"/>
<rect x="506" y="90" width="3" height="27" fill="#ff4500"/>
<rect x="515" y="88" width="1" height="17" fill="#32cd32"/>
<rect x="513" y="89" width="5" height="11" fill="#32cd32"/>
<rect x="523" y="136" width="1" height="74" fill="#32cd32"/>
<rect x="521" y="146" width="5" height="60" fill="#32cd32"/>
<rect x="531" y="204" width="1" height="89" fill="#32cd32"/>
<rect x="529" y="205" width="5" height="57" fill="#32cd32"/>
<rect x="539" y="219" width="1" height="51" fill="#ff0000"/>
<rect x="537" y="237" width="5" height="25" fill="#ff0000"/>
<rect x="538" y="238" width="3" height="23" fill="#ff4500"/>
<rect x="547" y="165" width="1" height="81" fill="#ff0000"/>
<rect x="545" y="196" width="5" height="42" fill="#ff0000"/>
<rect x="546" y="197" width="3" height="40" fill="#ff4500"/>
<rect x="555" y="183" width="1" height="47" fill="#32cd32"/>
<rect x="553" y="196" width="5" height="8" fill="#32cd32"/>
<rect x="563" y="189" width="1" height="17" fill="#ff0000"/>
<rect x="561" y="201" width="5" height="3" fill="#ff0000"/>
<rect x="562" y="202" width="3" height="1" fill="#ff4500"/>
<rect x="571" y="145" width="1" height="57" fill="#ff0000"/>
<rect x="569" y="147" width="5" height="55" fill="#ff0000"/>
<rect x="570" y="148" width="3" height="53" fill="#ff4500"/>
<rect x="579" y="141" width="1" height="47" fill="#32cd32"/>
<rect x="577" y="147" width="5" height="24" fill="#32cd32"/>
<rect x="587" y="160" width="1" height="61" fill="#32cd32"/>
<rect x="585" y="170" width="5" height="47" fill="#32cd32"/>
<rect x="595" y="195" width="1" height="50" fill="#ff0000"/>
<rect x="593" y="202" width="5" height="15" fill="#ff0000"/>
<rect x="594" y="203" width="3" height="13" fill="#ff4500"/>
<rect x="603" y="158" width="1" height="55" fill="#ff0000"/>
<rect x="601" y="170" width="5" height="33" fill="#ff0000"/>
<rect x="602" y="171" width="3" height="31" fill="#ff4500"/>
<rect x="611" y="170" width="1" height="12" fill="#32cd32"/>
<rect x="609" y="170" width="5" height="2" fill="#32cd32"/>
<rect x="619" y="168" width="1" height="19" fill="#32cd32"/>
<rect x="617" y="172" width="5" height="6" fill="#32cd32"/>
<rect x="627" y="174" width="1" height="22" fill="#32cd32"/>
<rect x="625" y="177" width="5" height="3" fill="#32cd32"/>
<rect x="635" y="177" width="1" height="23" fill="#32cd32"/>
<rect x="633" y="179" width="5" height="8" fill="#32cd32"/>
<rect x="643" y="152" width="1" height="52" fill="#ff0000"/>
<rect x="641" y="179" width="5" height="8" fill="#ff0000"/>
<rect x="642" y="180" width="3" height="6" fill="#ff4500"/>
<rect x="651" y="152" width="1" height="46" fill="#ff0000"/>
<rect x="649" y="155" width="5" height="25" fill="#ff0000"/>
<rect x="650" y="156" width="3" height="23" fill="#ff4500"/>
<rect x="659" y="145" width="1" height="15" fill="#ff0000"/>
<rect x="657" y="147" width="5" height="9" fill="#ff0000"/>
<rect x="658" y="148" width="3" height="7" fill="#ff4500"/>
<rect x="667" y="142" width="1" height="38" fill="#32cd32"/>
<rect x="665" y="144" width="5" height="28" fill="#32cd32"/>
<rect x="675" y="168" width="1" height="10" fill="#32cd32"/>
<rect x="673" y="170" width="5" height="7" fill="#32cd32"/>
<rect x="683" y="177" width="1" height="23" fill="#32cd32"/>
<rect x="681" y="186" width="5" height="14" fill="#32cd32"/>
<rect x="691" y="175" width="1" height="45" fill="#32cd32"/>
<rect x="689" y="199" width="5" height="4" fill="#32cd32"/>
<rect x="699" y="196" width="1" height="39" fill="#ff0000"/>
<rect x="697" y="201" width="5" height="4" fill="#ff0000"/>
<rect x="698" y="202" width="3" height="2" fill="#ff4500"/>
<rect x="707" y="196" width="1" height="12" fill="#32cd32"/>
<rect x="705" y="202" width="5" height="5" fill="#32cd32"/>
<rect x="715" y="197" width="1" height="27" fill="#32cd32"/>
<rect x="713" y="206" width="5" height="18" fill="#32cd32"/>
<rect x="723" y="218" width="1" height="13" fill="#32cd32"/>
<rect x="721" y="223" width="5" height="5" fill="#32cd32"/>
<rect x="731" y="208" width="1" height="33" fill="#ff0000"/>
<rect x="729" y="211" width="5" height="19" fill="#ff0000"/>
<rect x="730" y="212" width="3" height="17" fill="#ff4500"/>
<rect x="739" y="185" width="1" height="32" fill="#ff0000"/>
<rect x="737" y="203" width="5" height="10" fill="#ff0000"/>
<rect x="738" y="204" width="3" height="8" fill="#ff4500"/>
<rect x="747" y="200" width="1" height="26" fill="#32cd32"/>
<rect x="745" y="204" width="5" height="20" fill="#32cd32"/>
<rect x="755" y="220" width="1" height="13" fill="#32cd32"/>
<rect x="753" y="223" width="5" height="10" fill="#32cd32"/>
<rect x="763" y="230" width="1" height="32" fill="#32cd32"/>
<rect x="761" y="234" width="5" height="24" fill="#32cd32"/>
<rect x="771" y="225" width="1" height="41" fill="#ff0000"/>
<rect x="769" y="245" width="5" height="13" fill="#ff0000"/>
<rect x="770" y="246" width="3" height="11" fill="#ff4500"/>
<rect x="779" y="244" width="1" height="69" fill="#32cd32"/>
<rect x="777" y="245" width="5" height="55" fill="#32cd32"/>
<rect x="787" y="294" width="1" height="70" fill="#32cd32"/>
<rect x="785" y="300" width="5" height="52" fill="#32cd32"/>
<rect x="795" y="339" width="1" height="91" fill="#32cd32"/>
<rect x="793" y="351" width="5" height="45" fill="#32cd32"/>
<rect x="803" y="386" width="1" height="12" fill="#ff0000"/>
<rect x="801" y="393" width="5" height="2" fill="#ff0000"/>
<rect x="811" y="369" width="1" height="58" fill="#ff0000"/>
<rect x="809" y="386" width="5" height="8" fill="#ff0000"/>
<rect x="810" y="387" width="3" height="6" fill="#ff4500"/>
<rect x="819" y="370" width="1" height="51" fill="#ff0000"/>
<rect x="817" y="380" width="5" height="7" fill="#ff0000"/>
<rect x="818" y="381" width="3" height="5" fill="#ff4500"/>
<rect x="827" y="352" width="1" height="43" fill="#32cd32"/>
<rect x="825" y="379" width="5" height="9" fill="#32cd32"/>
<rect x="835" y="341" width="1" height="65" fill="#ff0000"/>
<rect x="833" y="345" width="5" height="44" fill="#ff0000"/>
<rect x="834" y="346" width="3" height="42" fill="#ff4500"/>
<rect x="843" y="343" width="1" height="43" fill="#ff0000"/>
<rect x="841" y="344" width="5" height="2" fill="#ff0000"/>
<rect x="851" y="322" width="1" height="22" fill="#ff0000"/>
<rect x="849" y="326" width="5" height="18" fill="#ff0000"/>
<rect x="850" y="327" width="3" height="16" fill="#ff4500"/>
<rect x="859" y="318" width="1" height="28" fill="#32cd32"/>
<rect x="857" y="326" width="5" height="4" fill="#32cd32"/>
<rect x="867" y="302" width="1" height="32" fill="#ff0000"/>
<rect x="865" y="314" width="5" height="16" fill="#ff0000"/>
<rect x="866" y="315" width="3" height="14" fill="#ff4500"/>
<rect x="875" y="307" width="1" height="48" fill="#32cd32"/>
<rect x="873" y="313" width="5" height="26" fill="#32cd32"/>
<rect x="883" y="316" width="1" height="48" fill="#ff0000"/>
<rect x="881" y="335" width="5" height="4" fill="#ff0000"/>
<rect x="882" y="336" width="3" height="2" fill="#ff4500"/>
<rect x="891" y="327" width="1" height="80" fill="#32cd32"/>
<rect x="889" y="335" width="5" height="66" fill="#32cd32"/>
<rect x="899" y="398" width="1" height="9" fill="#32cd32"/>
<rect x="897" y="400" width="5" height="6" fill="#32cd32"/>
<rect x="907" y="402" width="1" height="32" fill="#32cd32"/>
<rect x="905" y="402" width="5" height="18" fill="#32cd32"/>
</g>
<g shape-rendering="crispEdges">
<path stroke="#ff0000" stroke-width="1" d="M558 40.5h2M560 41.5h1M561 42.5h1M562 43.5h1M563 44.5h1M564 45.5h2M566 46.5h1M567 47.5h1M568 48.5h1M569 49.5h1M570 50.5h1M571 51.5h2M573 52.5h1M574 53.5h1M575 54.5h1M576 55.5h1M577 56.5h1M578 57.5h2M580 58.5h1M581 59.5h1M582 60.5h1M583 61.5h1M584 62.5h2M586 63.5h1M587 64.5h1M588 65.5h1M589 66.5h1M590 67.5h1M591 68.5h2M593 69.5h1M594 70.5h1M595 71.5h1M596 72.5h1M597 73.5h1M598 74.5h2M600 75.5h1M601 76.5h1M602 77.5h1M603 78.5h1M604 79.5h2M606 80.5h1M607 81.5h1M608 82.5h1M609 83.5h1M610 84.5h1M611 85.5h2M613 86.5h1M614 87.5h1M615 88.5h1M616 89.5h1M617 90.5h2M619 91.5h1M620 92.5h1M621 93.5h1M622 94.5h1M623 95.5h1M624 96.5h2M626 97.5h1M627 98.5h1M628 99.5h1M629 100.5h1M630 101.5h1M631 102.5h2M633 103.5h1M634 104.5h1M635 105.5h1M636 106.5h1M637 107.5h2M639 108.5h1M640 109.5h1M641 110.5h1M642 111.5h1M643 112.5h1M644 113.5h2M646 114.5h1M647 115.5h1M648 116.5h1M649 117.5h1M650 118.5h1M651 119.5h2M653 120.5h1M654 121.5h1M655 122.5h1M656 123.5h1M657 124.5h2M659 125.5h1M660 126.5h1M661 127.5h1M662 128.5h1M663 129.5h1M664 130.5h2M666 131.5h1M667 132.5h1M668 133.5h1M669 134.5h1M670 135.5h2M672 136.5h1M673 137.5h1M674 138.5h1M675 139.5h1M676 140.5h1M677 141.5h2M679 142.5h1M680 143.5h1M681 144.5h1M682 145.5h1M683 146.5h1M684 147.5h2M686 148.5h1M687 149.5h1M688 150.5h1M689 151.5h1M690 152.5h2M692 153.5h1M693 154.5h1M694 155.5h1M695 156.5h1M696 157.5h1M697 158.5h2M699 159.5h1M700 160.5h1M701 161.5h1M702 162.5h1M703 163.5h1M704 164.5h2M706 165.5h1M707 166.5h1M708 167.5h1M709 168.5h1M710 169.5h2M712 170.5h1M713 171.5h1M714 172.5h1M715 173.5h1M716 174.5h1M717 175.5h2M719 176.5h1M720 177.5h1M721 178.5h1M722 179.5h1M723 180.5h2M725 181.5h1M726 182.5h1M727 183.5h1M728 184.5h1M729 185.5h1M730 186.5h2M732 187.5h1M733 188.5h1M734 189.5h1M735 190.5h1M736 191.5h1M737 192.5h2M739 193.5h1M740 194.5h1M741 195.5h1M742 196.5h1M743 197.5h2M745 198.5h1M746 199.5h1M747 200.5h1M748 201.5h1M749 202.5h1M750 203.5h2M752 204.5h1M753 205.5h1M754 206.5h1M755 207.5h1M756 208.5h2M758 209.5h1M759 210.5h1M760 211.5h1M761 212.5h1M762 213.5h1M763 214.5h2M765 215.5h1M766 216.5h1M767 217.5h1M768 218.5h1M769 219.5h1M770 220.5h2M772 221.5h1M773 222.5h1M774 223.5h1M775 224.5h1M776 225.5h2M778 226.5h1M779 227.5h1M780 228.5h1M781 229.5h1M782 230.5h1M783 231.5h2M785 232.5h1M786 233.5h1M787 234.5h1M788 235.5h1M789 236.5h1M790 237.5h2M792 238.5h1M793 239.5h1M794 240.5h1M795 241.5h1M796 242.5h2M798 243.5h1M799 244.5h1M800 245.5h1M801 246.5h1M802 247.5h1M803 248.5h2M805 249.5h1M806 250.5h1M807 251.5h1M808 252.5h1M809 253.5h2M811 254.5h1M812 255.5h1M813 256.5h1M814 257.5h1M815 258.5h1M816 259.5h2M818 260.5h1M819 261.5h1M820 262.5h1M821 263.5h1M822 264.5h1M823 265.5h2M825 266.5h1M826 267.5h1M827 268.5h1M828 269.5h1M829 270.5h2M831 271.5h1M832 272.5h1M833 273.5h1M834 274.5h1M835 275.5h1M836 276.5h2M838 277.5h1M839 278.5h1M840 279.5h1M841 280.5h1M842 281.5h1M843 282.5h2M845 283.5h1M846 284.5h1M847 285.5h1M848 286.5h1M849 287.5h2M851 288.5h1M852 289.5h1M853 290.5h1M854 291.5h1M855 292.5h1M856 293.5h2M858 294.5h1M859 295.5h1M860 296.5h1M861 297.5h1M862 298.5h2M864 299.5h1M865 300.5h1M866 301.5h1M867 302.5h1M868 303.5h1M869 304.5h2M871 305.5h1M872 306.5h1M873 307.5h1M874 308.5h1M875 309.5h1M876 310.5h2M878 311.5h1M879 312.5h1M880 313.5h1M881 314.5h1M882 315.5h2M884 316.5h1M885 317.5h1M886 318.5h1M887 319.5h1M888 320.5h1M889 321.5h2M891 322.5h1M892 323.5h1M893 324.5h1M894 325.5h1M895 326.5h1M896 327.5h2M898 328.5h1M899 329.5h1M900 330.5h1M901 331.5h1M902 332.5h2M904 333.5h1M905 334.5h1M906 335.5h1M907 336.5h1M908 337.5h1M909 338.5h2M911 339.5h1M912 340.5h1M913 341.5h1M914 342.5h1M915 343.5h2M917 344.5h1M918 345.5h1M919 346.5h1M920 347.5h1M921 348.5h1M922 349.5h2M924 350.5h1M925 351.5h1M926 352.5h1M927 353.5h1M928 354.5h1M929 355.5h2M931 356.5h1M932 357.5h1M933 358.5h1M934 359.5h1M935 360.5h2M937 361.5h1M938 362.5h1M939 363.5h1M940 364.5h1M941 365.5h1M942 366.5h2M944 367.5h1M945 368.5h1M946 369.5h1M947 370.5h1M948 371.5h1M949 372.5h2M951 373.5h1M952 374.5h1M953 375.5h1M954 376.5h1M955 377.5h2M957 378.5h1M958 379.5h1M959 380.5h1M960 381.5h1M961 382.5h1M962 383.5h2M964 384.5h1M965 385.5h1M966 386.5h1M967 387.5h1M968 388.5h2M970 389.5h1M971 390.5h1M972 391.5h1M973 392.5h1M974 393.5h1M975 394.5h2M977 395.5h1M978 396.5h1M979 397.5h1M980 398.5h1M981 399.5h1M982 400.5h2M984 401.5h1M985 402.5h1M986 403.5h1M987 404.5h1M988 405.5h2M990 406.5h1M991 407.5h1M992 408.5h1M993 409.5h1M994 410.5h1M995 411.5h2M997 412.5h1M998 413.5h1M999 414.5h1M1000 415.5h1M1001 416.5h1M1002 417.5h2M1004 418.5h1M1005 419.5h1M1006 420.5h1M1007 421.5h1M1008 422.5h2M1010 423.5h1M1011 424.5h1M1012 425.5h1M1013 426.5h1M1014 427.5h1M1015 428.5h2M1017 429.5h1M1018 430.5h1M1019 431.5h1M1020 432.5h1M1021 433.5h2M1023 434.5h1M1024 435.5h1M1025 436.5h1M1026 437.5h1M1027 438.5h1M1028 439.5h2M1030 440.5h1M1031 441.5h1M1032 442.5h1M1033 443.5h1M1034 444.5h1"/>
<rect x="553.5" y="35.5" width="4" height="4" fill="#fff" stroke="#ff0000" stroke-width="1"/><rect x="725.5" y="181.5" width="4" height="4" fill="#fff" stroke="#ff0000" stroke-width="1"/><rect x="897.5" y="327.5" width="4" height="4" fill="#fff" stroke="#ff0000" stroke-width="1"/>
<rect x="598" y="244" width="429" height="2" fill="#ff2a2a"/>
<rect x="768" y="304" width="219" height="3" fill="#99cc00"/>
<rect x="987" y="305" width="12" height="2" fill="#99cc00"/>
<rect x="794" y="427" width="226" height="2" fill="#2e8fe6"/>
</g>
<path d="M6 37h7l-3.5 4z" fill="#000"/>
</g>
<!-- price label -->
<rect x="1155" y="414" width="41" height="11" fill="#000" shape-rendering="crispEdges"/>
<text x="1159" y="423" font-size="9.8" fill="#fff" stroke="#fff" stroke-width="0.15" textLength="33" lengthAdjust="spacingAndGlyphs">6.74326</text>
<!-- RSI -->
<g clip-path="url(#cr)">
<g shape-rendering="crispEdges" stroke="#c0c0c0" stroke-width="1" stroke-dasharray="3 3">
<line x1="4" y1="463.5" x2="1153" y2="463.5"/>
<line x1="4" y1="484.5" x2="1153" y2="484.5"/>
</g>
<g shape-rendering="crispEdges"><path stroke="#1e90ff" stroke-width="1" fill="none" d="M139 463.5h3M297 463.5h3M137 464.5h2M142 464.5h4M281 464.5h16M300 464.5h1M134 465.5h3M146 465.5h11M211 465.5h3M278 465.5h3M300 465.5h1M116 466.5h9M132 466.5h2M157 466.5h1M207 466.5h4M214 466.5h2M228 466.5h7M244 466.5h34M301 466.5h1M108 467.5h8M125 467.5h7M158 467.5h2M204 467.5h3M216 467.5h3M223 467.5h5M235 467.5h9M302 467.5h1M90 468.5h4M101 468.5h7M160 468.5h1M169 468.5h16M200 468.5h4M219 468.5h4M303 468.5h1M378 468.5h4M53 469.5h20M86 469.5h4M94 469.5h7M161 469.5h1M167 469.5h2M185 469.5h6M196 469.5h4M303 469.5h1M374 469.5h4M382 469.5h4M487 469.5h4M47 470.5h6M73 470.5h13M162 470.5h2M165 470.5h2M191 470.5h5M304 470.5h1M362 470.5h12M386 470.5h5M483 470.5h4M491 470.5h4M506 470.5h5M3 471.5h2M42 471.5h5M164 471.5h1M305 471.5h1M360 471.5h2M391 471.5h6M458 471.5h12M479 471.5h4M495 471.5h2M504 471.5h2M511 471.5h5M5 472.5h4M38 472.5h4M306 472.5h1M358 472.5h2M397 472.5h5M432 472.5h6M456 472.5h2M470 472.5h4M477 472.5h2M497 472.5h2M502 472.5h2M516 472.5h1M650 472.5h13M9 473.5h29M306 473.5h1M352 473.5h6M402 473.5h2M427 473.5h5M438 473.5h4M454 473.5h2M474 473.5h3M499 473.5h3M517 473.5h1M572 473.5h2M648 473.5h2M663 473.5h4M307 474.5h1M331 474.5h4M343 474.5h9M404 474.5h3M423 474.5h4M442 474.5h12M518 474.5h1M570 474.5h2M574 474.5h4M602 474.5h15M646 474.5h2M667 474.5h5M308 475.5h2M329 475.5h2M335 475.5h8M407 475.5h6M420 475.5h3M519 475.5h1M568 475.5h2M578 475.5h4M600 475.5h2M617 475.5h16M640 475.5h6M672 475.5h6M310 476.5h2M327 476.5h2M413 476.5h7M519 476.5h1M566 476.5h2M582 476.5h2M598 476.5h2M633 476.5h7M678 476.5h4M735 476.5h6M312 477.5h2M325 477.5h2M520 477.5h1M564 477.5h2M584 477.5h3M592 477.5h6M682 477.5h23M730 477.5h5M741 477.5h4M866 477.5h4M314 478.5h5M323 478.5h2M521 478.5h1M546 478.5h18M587 478.5h5M705 478.5h4M728 478.5h2M745 478.5h7M851 478.5h4M861 478.5h5M870 478.5h4M319 479.5h4M522 479.5h1M544 479.5h2M709 479.5h9M726 479.5h2M752 479.5h6M849 479.5h2M855 479.5h6M874 479.5h11M523 480.5h1M542 480.5h2M718 480.5h8M758 480.5h2M769 480.5h3M847 480.5h2M885 480.5h2M524 481.5h2M540 481.5h2M760 481.5h2M765 481.5h4M772 481.5h2M835 481.5h12M887 481.5h1M526 482.5h2M537 482.5h3M762 482.5h3M774 482.5h2M834 482.5h1M888 482.5h2M528 483.5h2M533 483.5h4M776 483.5h2M833 483.5h1M890 483.5h2M530 484.5h3M778 484.5h3M831 484.5h2M892 484.5h13M781 485.5h2M830 485.5h1M905 485.5h3M783 486.5h3M829 486.5h1M786 487.5h3M814 487.5h15M789 488.5h4M809 488.5h5M793 489.5h16"/></g>
</g>
<!-- MACD -->
<g clip-path="url(#cd)">
<g shape-rendering="crispEdges" fill="#c0c0c0">
<rect x="2" y="523" width="3" height="22"/>
<rect x="10" y="526" width="3" height="19"/>
<rect x="18" y="529" width="3" height="16"/>
<rect x="26" y="531" width="3" height="14"/>
<rect x="34" y="533" width="3" height="12"/>
<rect x="42" y="533" width="3" height="12"/>
<rect x="50" y="532" width="3" height="13"/>
<rect x="58" y="529" width="3" height="16"/>
<rect x="66" y="528" width="3" height="17"/>
<rect x="74" y="528" width="3" height="17"/>
<rect x="82" y="528" width="3" height="17"/>
<rect x="90" y="527" width="3" height="18"/>
<rect x="98" y="526" width="3" height="19"/>
<rect x="106" y="525" width="3" height="20"/>
<rect x="114" y="523" width="3" height="22"/>
<rect x="122" y="521" width="3" height="24"/>
<rect x="130" y="521" width="3" height="24"/>
<rect x="138" y="516" width="3" height="29"/>
<rect x="146" y="515" width="3" height="30"/>
<rect x="154" y="515" width="3" height="30"/>
<rect x="162" y="516" width="3" height="29"/>
<rect x="170" y="515" width="3" height="30"/>
<rect x="178" y="515" width="3" height="30"/>
<rect x="186" y="515" width="3" height="30"/>
<rect x="194" y="517" width="3" height="28"/>
<rect x="202" y="517" width="3" height="28"/>
<rect x="210" y="514" width="3" height="31"/>
<rect x="218" y="514" width="3" height="31"/>
<rect x="226" y="514" width="3" height="31"/>
<rect x="234" y="513" width="3" height="32"/>
<rect x="242" y="512" width="3" height="33"/>
<rect x="250" y="511" width="3" height="34"/>
<rect x="258" y="511" width="3" height="34"/>
<rect x="266" y="511" width="3" height="34"/>
<rect x="274" y="512" width="3" height="33"/>
<rect x="282" y="511" width="3" height="34"/>
<rect x="290" y="510" width="3" height="35"/>
<rect x="298" y="509" width="3" height="36"/>
<rect x="306" y="515" width="3" height="30"/>
<rect x="314" y="525" width="3" height="20"/>
<rect x="322" y="533" width="3" height="12"/>
<rect x="330" y="535" width="3" height="10"/>
<rect x="338" y="538" width="3" height="7"/>
<rect x="346" y="540" width="3" height="5"/>
<rect x="354" y="540" width="3" height="5"/>
<rect x="362" y="537" width="3" height="8"/>
<rect x="370" y="536" width="3" height="9"/>
<rect x="378" y="532" width="3" height="13"/>
<rect x="386" y="532" width="3" height="13"/>
<rect x="394" y="532" width="3" height="13"/>
<rect x="402" y="534" width="3" height="11"/>
<rect x="410" y="537" width="3" height="8"/>
<rect x="418" y="540" width="3" height="5"/>
<rect x="426" y="541" width="3" height="4"/>
<rect x="434" y="540" width="3" height="5"/>
<rect x="442" y="542" width="3" height="3"/>
<rect x="450" y="543" width="3" height="2"/>
<rect x="458" y="541" width="3" height="4"/>
<rect x="466" y="541" width="3" height="4"/>
<rect x="474" y="541" width="3" height="4"/>
<rect x="482" y="538" width="3" height="7"/>
<rect x="490" y="537" width="3" height="8"/>
<rect x="498" y="538" width="3" height="7"/>
<rect x="506" y="536" width="3" height="9"/>
<rect x="514" y="536" width="3" height="9"/>
<rect x="522" y="545" width="3" height="1"/>
<rect x="530" y="545" width="3" height="13"/>
<rect x="538" y="545" width="3" height="20"/>
<rect x="546" y="545" width="3" height="22"/>
<rect x="554" y="545" width="3" height="24"/>
<rect x="562" y="545" width="3" height="25"/>
<rect x="570" y="545" width="3" height="21"/>
<rect x="578" y="545" width="3" height="19"/>
<rect x="586" y="545" width="3" height="22"/>
<rect x="594" y="545" width="3" height="22"/>
<rect x="602" y="545" width="3" height="20"/>
<rect x="610" y="545" width="3" height="18"/>
<rect x="618" y="545" width="3" height="16"/>
<rect x="626" y="545" width="3" height="15"/>
<rect x="634" y="545" width="3" height="15"/>
<rect x="642" y="545" width="3" height="14"/>
<rect x="650" y="545" width="3" height="11"/>
<rect x="658" y="545" width="3" height="8"/>
<rect x="666" y="545" width="3" height="7"/>
<rect x="674" y="545" width="3" height="7"/>
<rect x="682" y="545" width="3" height="9"/>
<rect x="690" y="545" width="3" height="10"/>
<rect x="698" y="545" width="3" height="12"/>
<rect x="706" y="545" width="3" height="13"/>
<rect x="714" y="545" width="3" height="15"/>
<rect x="722" y="545" width="3" height="17"/>
<rect x="730" y="545" width="3" height="17"/>
<rect x="738" y="545" width="3" height="16"/>
<rect x="746" y="545" width="3" height="17"/>
<rect x="754" y="545" width="3" height="18"/>
<rect x="762" y="545" width="3" height="21"/>
<rect x="770" y="545" width="3" height="22"/>
<rect x="778" y="545" width="3" height="28"/>
<rect x="786" y="545" width="3" height="36"/>
<rect x="794" y="545" width="3" height="46"/>
<rect x="802" y="545" width="3" height="53"/>
<rect x="810" y="545" width="3" height="58"/>
<rect x="818" y="545" width="3" height="60"/>
<rect x="826" y="545" width="3" height="62"/>
<rect x="834" y="545" width="3" height="59"/>
<rect x="842" y="545" width="3" height="55"/>
<rect x="850" y="545" width="3" height="51"/>
<rect x="858" y="545" width="3" height="47"/>
<rect x="866" y="545" width="3" height="42"/>
<rect x="874" y="545" width="3" height="40"/>
<rect x="882" y="545" width="3" height="37"/>
<rect x="890" y="545" width="3" height="41"/>
<rect x="898" y="545" width="3" height="43"/>
<rect x="906" y="545" width="3" height="46"/>
</g>
<g shape-rendering="crispEdges"><path stroke="#ff0000" stroke-width="1" fill="none" d="M297 510.5h12M293 511.5h4M309 511.5h4M271 512.5h22M313 512.5h4M263 513.5h8M317 513.5h2M239 514.5h24M319 514.5h3M183 515.5h56M322 515.5h3M175 516.5h8M325 516.5h2M169 517.5h6M327 517.5h3M165 518.5h4M330 518.5h3M159 519.5h6M333 519.5h2M153 520.5h6M335 520.5h3M149 521.5h4M338 521.5h3M3 522.5h18M143 522.5h6M341 522.5h2M21 523.5h4M137 523.5h6M343 523.5h3M25 524.5h4M133 524.5h4M346 524.5h3M29 525.5h4M127 525.5h6M349 525.5h2M33 526.5h6M119 526.5h8M351 526.5h3M39 527.5h8M111 527.5h8M354 527.5h3M47 528.5h8M103 528.5h8M357 528.5h2M55 529.5h8M95 529.5h8M359 529.5h3M63 530.5h32M362 530.5h3M365 531.5h2M367 532.5h3M370 533.5h5M375 534.5h6M381 535.5h4M385 536.5h54M439 537.5h8M447 538.5h8M455 539.5h8M495 539.5h30M463 540.5h32M525 540.5h4M529 541.5h4M533 542.5h4M537 543.5h4M541 544.5h4M545 545.5h3M548 546.5h2M550 547.5h2M552 548.5h2M554 549.5h3M557 550.5h2M559 551.5h3M562 552.5h3M565 553.5h2M567 554.5h3M570 555.5h2M673 555.5h54M572 556.5h2M669 556.5h4M727 556.5h8M574 557.5h2M665 557.5h4M735 557.5h6M576 558.5h2M661 558.5h4M741 558.5h4M578 559.5h3M655 559.5h6M745 559.5h6M581 560.5h2M649 560.5h6M751 560.5h16M583 561.5h3M645 561.5h4M767 561.5h6M586 562.5h3M639 562.5h6M773 562.5h4M589 563.5h4M631 563.5h8M777 563.5h4M593 564.5h4M615 564.5h16M781 564.5h4M597 565.5h4M607 565.5h8M785 565.5h3M601 566.5h6M788 566.5h2M790 567.5h2M792 568.5h2M794 569.5h2M796 570.5h2M798 571.5h2M800 572.5h2M802 573.5h2M804 574.5h2M806 575.5h2M808 576.5h2M810 577.5h2M812 578.5h2M814 579.5h2M816 580.5h2M818 581.5h2M820 582.5h2M822 583.5h1M823 584.5h2M825 585.5h2M827 586.5h1M828 587.5h2M830 588.5h1M831 589.5h2M903 589.5h5M833 590.5h2M897 590.5h6M835 591.5h2M893 591.5h4M837 592.5h2M887 592.5h6M839 593.5h3M882 593.5h5M842 594.5h3M879 594.5h3M845 595.5h2M877 595.5h2M847 596.5h3M873 596.5h4M850 597.5h5M869 597.5h4M855 598.5h14"/></g>
</g>
<g filter="url(#nofx)">
<text x="2.5" y="18" font-size="10" fill="#3c3c3c" stroke="#3c3c3c" stroke-width="0.05" textLength="17.8" lengthAdjust="spacingAndGlyphs">M30</text>
<text x="33.7" y="18" font-size="10" fill="#3c3c3c" stroke="#3c3c3c" stroke-width="0.05" textLength="11.3" lengthAdjust="spacingAndGlyphs">H1</text>
<text x="60.3" y="18" font-size="10" fill="#3c3c3c" stroke="#3c3c3c" stroke-width="0.05" textLength="12.5" lengthAdjust="spacingAndGlyphs">H4</text>
<text x="89.7" y="18" font-size="10" fill="#3c3c3c" stroke="#3c3c3c" stroke-width="0.05" textLength="11.5" lengthAdjust="spacingAndGlyphs">D1</text>
<text x="117" y="18" font-size="10" fill="#3c3c3c" stroke="#3c3c3c" stroke-width="0.05" textLength="14.3" lengthAdjust="spacingAndGlyphs">W1</text>
<text x="143.9" y="18" font-size="10" fill="#3c3c3c" stroke="#3c3c3c" stroke-width="0.05" textLength="14.4" lengthAdjust="spacingAndGlyphs">MN</text>
</g>
<g>
<text x="18.5" y="42" font-size="9.8" fill="#000" stroke="#000" stroke-width="0.15" textLength="64.5" lengthAdjust="spacingAndGlyphs">USDCNH,Daily</text>
<text x="90" y="42" font-size="9.8" fill="#000" stroke="#000" stroke-width="0.15" textLength="32.7" lengthAdjust="spacingAndGlyphs">6.75395</text>
<text x="126" y="42" font-size="9.8" fill="#000" stroke="#000" stroke-width="0.15" textLength="32.7" lengthAdjust="spacingAndGlyphs">6.75409</text>
<text x="162" y="42" font-size="9.8" fill="#000" stroke="#000" stroke-width="0.15" textLength="32.7" lengthAdjust="spacingAndGlyphs">6.73430</text>
<text x="198.3" y="42" font-size="9.8" fill="#000" stroke="#000" stroke-width="0.15" textLength="32.7" lengthAdjust="spacingAndGlyphs">6.74326</text>
<text x="1159" y="48" font-size="9.8" fill="#000" stroke="#000" stroke-width="0.15" textLength="33" lengthAdjust="spacingAndGlyphs">6.98370</text>
<text x="1159" y="81" font-size="9.8" fill="#000" stroke="#000" stroke-width="0.15" textLength="33" lengthAdjust="spacingAndGlyphs">6.96270</text>
<text x="1159" y="114" font-size="9.8" fill="#000" stroke="#000" stroke-width="0.15" textLength="33" lengthAdjust="spacingAndGlyphs">6.94110</text>
<text x="1159" y="147" font-size="9.8" fill="#000" stroke="#000" stroke-width="0.15" textLength="33" lengthAdjust="spacingAndGlyphs">6.92010</text>
<text x="1159" y="180" font-size="9.8" fill="#000" stroke="#000" stroke-width="0.15" textLength="33" lengthAdjust="spacingAndGlyphs">6.89910</text>
<text x="1159" y="213" font-size="9.8" fill="#000" stroke="#000" stroke-width="0.15" textLength="33" lengthAdjust="spacingAndGlyphs">6.87750</text>
<text x="1159" y="246" font-size="9.8" fill="#000" stroke="#000" stroke-width="0.15" textLength="33" lengthAdjust="spacingAndGlyphs">6.85650</text>
<text x="1159" y="279" font-size="9.8" fill="#000" stroke="#000" stroke-width="0.15" textLength="33" lengthAdjust="spacingAndGlyphs">6.83550</text>
<text x="1159" y="312" font-size="9.8" fill="#000" stroke="#000" stroke-width="0.15" textLength="33" lengthAdjust="spacingAndGlyphs">6.81450</text>
<text x="1159" y="345" font-size="9.8" fill="#000" stroke="#000" stroke-width="0.15" textLength="33" lengthAdjust="spacingAndGlyphs">6.79290</text>
<text x="1159" y="378" font-size="9.8" fill="#000" stroke="#000" stroke-width="0.15" textLength="33" lengthAdjust="spacingAndGlyphs">6.77190</text>
<text x="1159" y="411" font-size="9.8" fill="#000" stroke="#000" stroke-width="0.15" textLength="33" lengthAdjust="spacingAndGlyphs">6.75090</text>
<text x="1159" y="444" font-size="9.8" fill="#000" stroke="#000" stroke-width="0.15" textLength="33" lengthAdjust="spacingAndGlyphs">6.72990</text>
<text x="7.5" y="458" font-size="9.8" fill="#000" stroke="#000" stroke-width="0.15" textLength="31.5" lengthAdjust="spacingAndGlyphs">RSI(14)</text>
<text x="42" y="458" font-size="9.8" fill="#000" stroke="#000" stroke-width="0.15" textLength="32.6" lengthAdjust="spacingAndGlyphs">28.8927</text>
<text x="1157" y="456" font-size="9.8" fill="#000" stroke="#000" stroke-width="0.15" textLength="14.6" lengthAdjust="spacingAndGlyphs">100</text>
<text x="1157" y="467" font-size="9.8" fill="#000" stroke="#000" stroke-width="0.15" textLength="9.5" lengthAdjust="spacingAndGlyphs">70</text>
<text x="1157" y="488" font-size="9.8" fill="#000" stroke="#000" stroke-width="0.15" textLength="9.5" lengthAdjust="spacingAndGlyphs">30</text>
<text x="1157" y="498" font-size="9.8" fill="#000" stroke="#000" stroke-width="0.15" textLength="4.8" lengthAdjust="spacingAndGlyphs">0</text>
<text x="7.8" y="516" font-size="9.8" fill="#000" stroke="#000" stroke-width="0.15" textLength="65.2" lengthAdjust="spacingAndGlyphs">MACD(12,26,9)</text>
<text x="76" y="516" font-size="9.8" fill="#000" stroke="#000" stroke-width="0.15" textLength="40.1" lengthAdjust="spacingAndGlyphs">-0.026441</text>
<text x="120" y="516" font-size="9.8" fill="#000" stroke="#000" stroke-width="0.15" textLength="40.8" lengthAdjust="spacingAndGlyphs">-0.025647</text>
<text x="1157" y="514" font-size="9.8" fill="#000" stroke="#000" stroke-width="0.15" textLength="38" lengthAdjust="spacingAndGlyphs">0.023534</text>
<text x="1157" y="549" font-size="9.8" fill="#000" stroke="#000" stroke-width="0.15" textLength="17.6" lengthAdjust="spacingAndGlyphs">0.00</text>
<text x="1157" y="608" font-size="9.8" fill="#000" stroke="#000" stroke-width="0.15" textLength="40.7" lengthAdjust="spacingAndGlyphs">-0.038466</text>
<text x="2.6" y="624" font-size="9.8" fill="#000" stroke="#000" stroke-width="0.15" textLength="51.6" lengthAdjust="spacingAndGlyphs">18 Sep 2018</text>
<text x="66.6" y="624" font-size="9.8" fill="#000" stroke="#000" stroke-width="0.15" textLength="51.4" lengthAdjust="spacingAndGlyphs">27 Sep 2018</text>
<text x="130.6" y="624" font-size="9.8" fill="#000" stroke="#000" stroke-width="0.15" textLength="45" lengthAdjust="spacingAndGlyphs">6 Oct 2018</text>
<text x="194.6" y="624" font-size="9.8" fill="#000" stroke="#000" stroke-width="0.15" textLength="50.6" lengthAdjust="spacingAndGlyphs">16 Oct 2018</text>
<text x="258.6" y="624" font-size="9.8" fill="#000" stroke="#000" stroke-width="0.15" textLength="51.2" lengthAdjust="spacingAndGlyphs">25 Oct 2018</text>
<text x="322.6" y="624" font-size="9.8" fill="#000" stroke="#000" stroke-width="0.15" textLength="48.3" lengthAdjust="spacingAndGlyphs">3 Nov 2018</text>
<text x="386.6" y="624" font-size="9.8" fill="#000" stroke="#000" stroke-width="0.15" textLength="53.4" lengthAdjust="spacingAndGlyphs">13 Nov 2018</text>
<text x="450.6" y="624" font-size="9.8" fill="#000" stroke="#000" stroke-width="0.15" textLength="53.4" lengthAdjust="spacingAndGlyphs">22 Nov 2018</text>
<text x="514.6" y="624" font-size="9.8" fill="#000" stroke="#000" stroke-width="0.15" textLength="46.2" lengthAdjust="spacingAndGlyphs">1 Dec 2018</text>
<text x="578.6" y="624" font-size="9.8" fill="#000" stroke="#000" stroke-width="0.15" textLength="51.6" lengthAdjust="spacingAndGlyphs">11 Dec 2018</text>
<text x="642.6" y="624" font-size="9.8" fill="#000" stroke="#000" stroke-width="0.15" textLength="52" lengthAdjust="spacingAndGlyphs">20 Dec 2018</text>
<text x="706.6" y="624" font-size="9.8" fill="#000" stroke="#000" stroke-width="0.15" textLength="52" lengthAdjust="spacingAndGlyphs">29 Dec 2018</text>
<text x="770.6" y="624" font-size="9.8" fill="#000" stroke="#000" stroke-width="0.15" textLength="45" lengthAdjust="spacingAndGlyphs">8 Jan 2019</text>
<text x="834.6" y="624" font-size="9.8" fill="#000" stroke="#000" stroke-width="0.15" textLength="50" lengthAdjust="spacingAndGlyphs">17 Jan 2019</text>
<text x="898.6" y="624" font-size="9.8" fill="#000" stroke="#000" stroke-width="0.15" textLength="50" lengthAdjust="spacingAndGlyphs">26 Jan 2019</text>
</g>
</svg>
</body></html>
